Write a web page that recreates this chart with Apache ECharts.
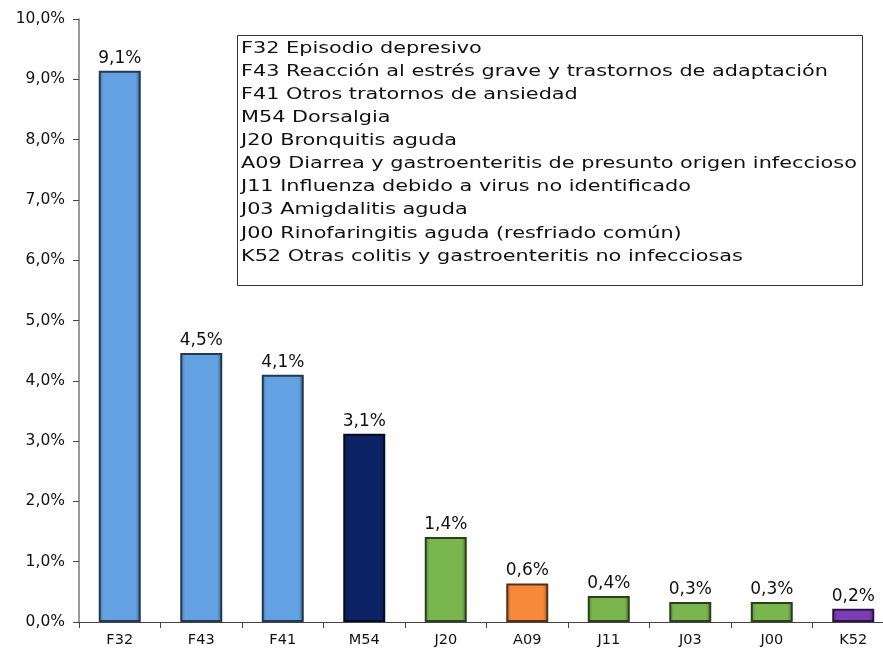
<!DOCTYPE html>
<html>
<head>
<meta charset="utf-8">
<script src="https://cdn.jsdelivr.net/npm/echarts@6/dist/echarts.min.js"></script>
<style>
  html, body { margin: 0; padding: 0; background: #fff; }
  #chart { width: 883px; height: 650px; }
</style>
</head>
<body>
<div id="chart"></div>
<script>
  // datos
  var categories = ['F32', 'F43', 'F41', 'M54', 'J20', 'A09', 'J11', 'J03', 'J00', 'K52']
  var values = [9.14, 4.46, 4.1, 3.12, 1.41, 0.64, 0.43, 0.33, 0.33, 0.22]
  var barColors = ['#62a2e2', '#62a2e2', '#62a2e2', '#0c2466', '#79b74e', '#f78a3a', '#79b74e', '#79b74e', '#79b74e', '#7a3db8']
  var yTicks = [0, 1, 2, 3, 4, 5, 6, 7, 8, 9, 10]
  var legendLines = [
    'F32 Episodio depresivo',
    'F43 Reacción al estrés grave y trastornos de adaptación',
    'F41 Otros tratornos de ansiedad',
    'M54 Dorsalgia',
    'J20 Bronquitis aguda',
    'A09 Diarrea y gastroenteritis de presunto origen infeccioso',
    'J11 Influenza debido a virus no identificado',
    'J03 Amigdalitis aguda',
    'J00 Rinofaringitis aguda (resfriado común)',
    'K52 Otras colitis y gastroenteritis no infecciosas'
  ]

  function pct (v) {
    return v.toFixed(1).replace('.', ',') + '%'
  }

  function shade (hex, f) {
    var n = parseInt(hex.slice(1), 16)
    var r = (n >> 16) & 255, g = (n >> 8) & 255, b = n & 255
    r = Math.round(r * f); g = Math.round(g * f); b = Math.round(b * f)
    return 'rgb(' + r + ',' + g + ',' + b + ')'
  }

  var chart = echarts.init(document.getElementById('chart'))
  var option = {
    animation: false,
    textStyle: { fontFamily: 'DejaVu Sans' },
    // cuadro de leyenda (texto estático)
    graphic: [
      {
        type: 'rect',
        shape: { x: 237.5, y: 35.5, width: 625, height: 250 },
        style: { fill: '#fff', stroke: '#333', lineWidth: 1 },
        z: 10
      },
      {
        type: 'text',
        x: 241,
        y: 37,
        scaleX: 1.3,
        z: 11,
        style: {
          text: legendLines.join('\n'),
          fontFamily: 'DejaVu Sans',
          fontSize: 16,
          lineHeight: 23.1,
          fill: '#111'
        }
      }
    ],
    grid: {
      left: 79,
      width: 815,
      top: 19,
      bottom: 28,
      containLabel: false,
      outerBoundsMode: 'none'
    },
    xAxis: {
      type: 'category',
      data: categories,
      axisLine: { lineStyle: { color: '#444', width: 1 } },
      axisTick: { show: true, alignWithLabel: false, length: 6, lineStyle: { color: '#444' } },
      axisLabel: { color: '#111', fontSize: 14.5, margin: 11 }
    },
    yAxis: {
      type: 'value',
      min: yTicks[0],
      max: yTicks[yTicks.length - 1],
      interval: 1,
      splitLine: { show: false },
      axisLine: { show: true, lineStyle: { color: '#777', width: 1.5 } },
      axisTick: { show: true, length: 6, lineStyle: { color: '#444' } },
      axisLabel: {
        color: '#111',
        fontSize: 15.5,
        margin: 14,
        formatter: function (v) { return pct(v) }
      }
    },
    series: [{
      type: 'bar',
      barWidth: 42,
      data: values.map(function (v, i) {
        var c = barColors[i]
        return {
          value: v,
          itemStyle: {
            color: {
              type: 'linear', x: 0, y: 0, x2: 1, y2: 0,
              colorStops: [
                { offset: 0, color: shade(c, 0.75) },
                { offset: 0.12, color: c },
                { offset: 0.88, color: c },
                { offset: 1, color: shade(c, 0.6) }
              ]
            },
            borderColor: shade(c, 0.35),
            borderWidth: 2
          }
        }
      }),
      label: {
        show: true,
        position: 'top',
        distance: 4,
        color: '#111',
        fontSize: 17,
        formatter: function (p) { return pct(p.value) }
      }
    }]
  }
  chart.setOption(option)
  window.addEventListener('resize', function () {
    chart.resize()
  })
</script>
</body>
</html>
